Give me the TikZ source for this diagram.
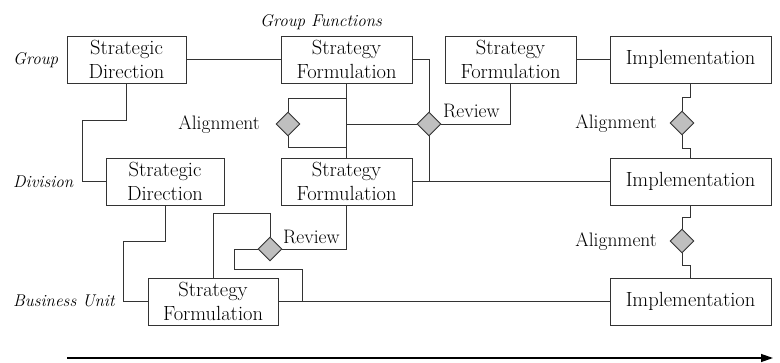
\documentclass[tikz,border=0pt]{standalone}
\usepackage{fontspec}
\usetikzlibrary{shapes.geometric,arrows.meta}

\begin{document}
\begin{tikzpicture}[x=1pt,y=-1pt,
  box/.style={draw=black!80, line width=0.9pt, minimum height=47pt, inner sep=0pt,
              align=center, font=\fontsize{20.5}{24}\selectfont},
  gate/.style={diamond, draw=black!80, fill=black!25, line width=0.9pt,
               minimum width=24pt, minimum height=24pt, inner sep=0pt, aspect=1},
  wire/.style={draw=black!80, line width=0.9pt},
  lvl/.style={font=\fontsize{17}{20}\selectfont\itshape, inner sep=0pt},
  tag/.style={font=\fontsize{19.5}{22}\selectfont, inner sep=0pt}]
\useasboundingbox (0,0) rectangle (780,363);

% level labels
\node[lvl, anchor=base west] (lg) at (13,65) {Group};
\node[lvl, anchor=base west] (lf) at (260,27) {Group Functions};
\node[lvl, anchor=base west] (ld) at (13,188) {Division};
\node[lvl, anchor=base west] (lb) at (13,307) {Business Unit};

% group row
\node[box, minimum width=119pt] (sd1) at (126.5,59.5) {Strategic\\Direction};
\node[box, minimum width=131pt] (sf1) at (346.5,59.5) {Strategy\\Formulation};
\node[box, minimum width=131pt] (sfg) at (510.5,59.5) {Strategy\\Formulation};
\node[box, minimum width=161pt] (ig)  at (690.5,59.5) {Implementation};

% division row
\node[box, minimum width=118pt] (sd2) at (165,181.5) {Strategic\\Direction};
\node[box, minimum width=131pt] (sfd) at (346.5,181.5) {Strategy\\Formulation};
\node[box, minimum width=161pt] (id)  at (690.5,181.5) {Implementation};

% business unit row
\node[box, minimum width=130pt] (sfb) at (213,301.5) {Strategy\\Formulation};
\node[box, minimum width=161pt] (ib)  at (690.5,301.5) {Implementation};

% alignment and review gates
\node[gate] (ga) at (288,124) {};
\node[gate] (gr) at (429,124) {};
\node[gate] (gb) at (270,249) {};
\node[gate] (ja) at (682,123) {};
\node[gate] (jb) at (682,241) {};

\node[tag, anchor=base east] (tga) at (260,130) {Alignment};
\node[tag, anchor=base west] (tgr) at (443,118) {Review};
\node[tag, anchor=base west] (tgb) at (283,244) {Review};
\node[tag, anchor=base east] (tja) at (657,129) {Alignment};
\node[tag, anchor=base east] (tjb) at (657,247) {Alignment};

% connectors
\draw[wire] (sd1.east) -- (sf1.west);
\draw[wire] (sfg.east) -- (ig.west);
\draw[wire] (sd1.south) |- (82,120) |- (sd2.west);
\draw[wire] (sf1.south) -- (sfd.north);
\draw[wire] (ga.north) |- (346.5,98);
\draw[wire] (ga.south) |- (346.5,147);
\draw[wire] (346.5,124) -- (gr.west);
\draw[wire] (sf1.east) -| (gr.north);
\draw[wire] (gr.east) -| (sfg.south);
\draw[wire] (gr.south) -- (429,181.5);
\draw[wire] (sfd.east) -- (id.west);
\draw[wire] (ig.south) -- ++(0,14) -| (ja.north);
\draw[wire] (ja.south) -- ++(0,13) -| (id.north);
\draw[wire] (id.south) -- ++(0,12) -| (jb.north);
\draw[wire] (jb.south) -- ++(0,12) -| (ib.north);
\draw[wire] (sd2.south) |- (123,241) |- (sfb.west);
\draw[wire] (sfb.north) |- (270,213) -- (gb.north);
\draw[wire] (gb.east) -| (sfd.south);
\draw[wire] (gb.west) -| (234,269) -| (302,301.5);
\draw[wire] (sfb.east) -- (ib.west);

% time axis
\coordinate (t0) at (67,358);
\coordinate (t1) at (773,358);
\draw[draw=black, line width=1.3pt, -{Triangle[length=12pt,width=8pt]}] (t0) -- (t1);
\end{tikzpicture}
\end{document}
